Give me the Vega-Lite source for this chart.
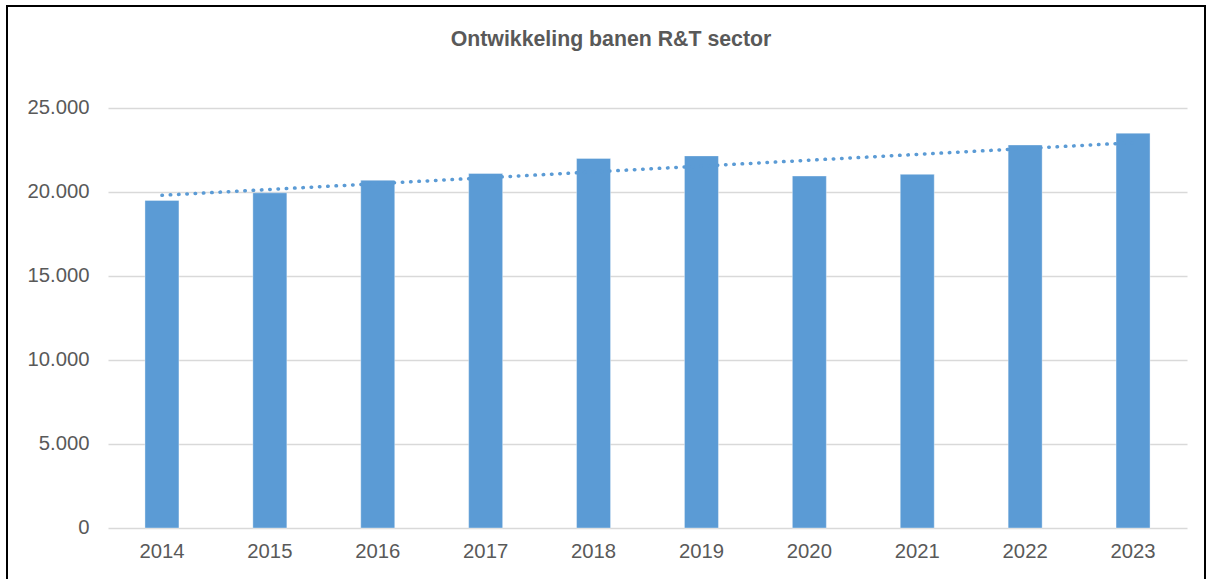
{
  "$schema": "https://vega.github.io/schema/vega-lite/v6.json",
  "width": 1198,
  "height": 580,
  "autosize": {"type": "none"},
  "padding": {"left": 7, "top": 6, "right": 8, "bottom": 0},
  "background": "#ffffff",
  "title": {
    "text": "Ontwikkeling banen R&T sector",
    "font": "Liberation Sans",
    "fontSize": 21.3,
    "fontWeight": "bold",
    "color": "#595959",
    "anchor": "middle",
    "offset": -44,
    "dx": 5
  },
  "data": {
    "values": [
      {"year": 2014, "jobs": 19500},
      {"year": 2015, "jobs": 19950},
      {"year": 2016, "jobs": 20700},
      {"year": 2017, "jobs": 21100},
      {"year": 2018, "jobs": 22000},
      {"year": 2019, "jobs": 22150},
      {"year": 2020, "jobs": 20950},
      {"year": 2021, "jobs": 21050},
      {"year": 2022, "jobs": 22800},
      {"year": 2023, "jobs": 23500}
    ]
  },
  "encoding": {
    "x": {
      "field": "year",
      "type": "ordinal",
      "scale": {"range": [101, 1180], "paddingInner": 0.685, "paddingOuter": 0.3425},
      "axis": {
        "title": null,
        "offset": -58,
        "domain": false,
        "ticks": false,
        "grid": false,
        "labelAngle": 0,
        "labelFont": "Liberation Sans",
        "labelFontSize": 20.3,
        "labelColor": "#595959",
        "labelPadding": 13
      }
    }
  },
  "layer": [
    {
      "mark": {"type": "bar", "color": "#5B9BD5", "stroke": "#ffffff", "strokeWidth": 0.6, "strokeOpacity": 0.6},
      "encoding": {
        "y": {
          "field": "jobs",
          "type": "quantitative",
          "scale": {"domain": [-3452.4, 31071.4], "nice": false, "zero": false},
          "axis": {
            "title": null,
            "offset": -101,
            "values": [0, 5000, 10000, 15000, 20000, 25000],
            "labelExpr": "replace(format(datum.value, ','), ',', '.')",
            "domain": false,
            "ticks": false,
            "grid": true,
            "gridScale": "x",
            "gridColor": "#D9D9D9",
            "gridWidth": 1.5,
            "labelFont": "Liberation Sans",
            "labelFontSize": 20.3,
            "labelColor": "#595959",
            "labelPadding": 19
          }
        },
        "y2": {"datum": 0}
      }
    },
    {
      "transform": [{"regression": "jobs", "on": "year"}],
      "mark": {"type": "line", "color": "#5B9BD5", "strokeWidth": 3.5, "strokeCap": "round", "strokeDash": [0.5, 7.8]},
      "encoding": {
        "y": {"field": "jobs", "type": "quantitative"}
      }
    }
  ],
  "config": {
    "view": {"stroke": "#000000", "strokeWidth": 2}
  }
}
